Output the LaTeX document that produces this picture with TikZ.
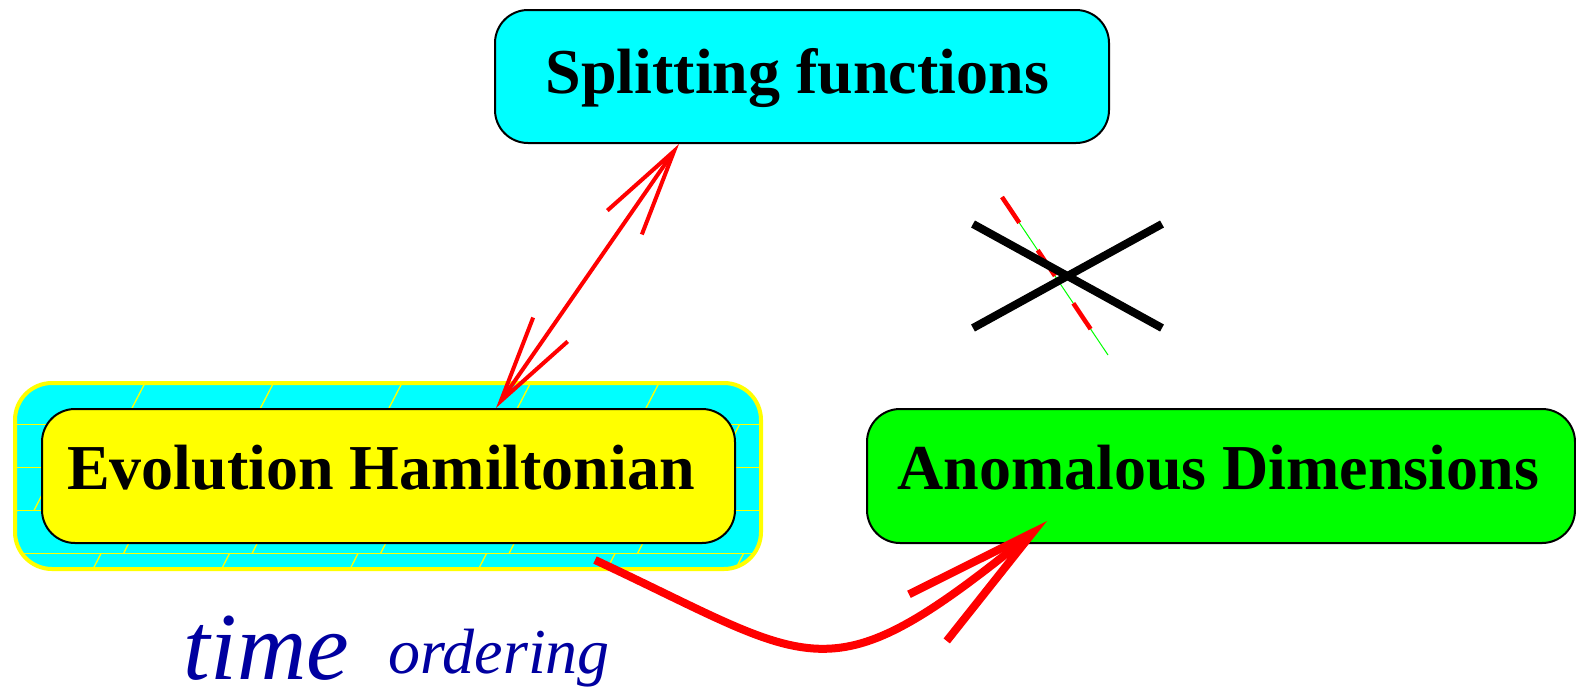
\documentclass[tikz,border=0pt]{standalone}
\usepackage{fontspec}
\setmainfont{Liberation Serif}
\usetikzlibrary{arrows.meta,calc}
\definecolor{tblue}{RGB}{0,0,160}
\definecolor{pcyan}{RGB}{0,255,255}
\definecolor{pyellow}{RGB}{255,255,0}
\definecolor{pgreen}{RGB}{0,255,0}
\definecolor{pred}{RGB}{255,0,0}
\begin{document}
\begin{tikzpicture}[x=1pt,y=-1pt,
  bigtxt/.style={inner sep=0pt, anchor=base west, font=\fontsize{64}{70}\selectfont\bfseries},
  boxshape/.style={draw=black, line width=2pt, rounded corners=33pt, inner sep=0pt},
  bluetxt/.style={inner sep=0pt, anchor=base west, text=tblue, text depth=0pt},
  patline/.style={draw=pyellow, line width=1.8pt},
  pattick/.style={draw=pyellow, line width=1.3pt},
  redarrow/.style={draw=pred, line width=4pt},
  thickarrow/.style={draw=pred, line width=8pt},
  crossline/.style={draw=black, line width=8pt}
]
\useasboundingbox (0,0) rectangle (1576,689);

% Splitting functions box
\node[boxshape, fill=pcyan, minimum width=614pt, minimum height=133pt] (sf) at (802,76.5) {};
\node[bigtxt] (sft) at (545.5,93.5) {Splitting functions};

% Evolution outer box with brick pattern
\node[draw=pyellow, line width=4pt, fill=pcyan, rounded corners=37pt, inner sep=0pt,
      minimum width=746pt, minimum height=186pt] (evo) at (388,476) {};
\begin{scope}
  \clip[rounded corners=37pt] (15,383) rectangle (761,569);
  \foreach \yy in {424.5,467.5,510.5,553.5} \draw[patline] (15,\yy) -- (761,\yy);
  \foreach \tt/\bb/\oo in {382/424.5/6, 424.5/467.5/86, 467.5/510.5/45, 510.5/553.5/6, 553.5/596.5/90}{
    \foreach \k in {0,...,6}{
      \pgfmathsetmacro\cc{\oo+128.5*\k}
      \draw[pattick] ({\cc-11},\bb) -- ({\cc+11},\tt);
    }
  }
\end{scope}
\node[boxshape, fill=pyellow, minimum width=693pt, minimum height=134pt] (ev) at (388.5,476) {};
\node[bigtxt] (evt) at (67,489) {Evolution Hamiltonian};

% Anomalous Dimensions box
\node[boxshape, fill=pgreen, minimum width=708pt, minimum height=134pt] (ad) at (1221,476) {};
\node[bigtxt] (adt) at (897,489) {Anomalous Dimensions};

% time ordering
\node[bluetxt, font=\fontsize{96}{100}\selectfont\itshape] (tm) at (183.5,679) {time};
\node[bluetxt, font=\fontsize{64}{70}\selectfont\itshape] (ord) at (388,673) {ordering};

% crossed-out dashed line
\draw[draw=pgreen, line width=1pt] (1002,197) -- (1108,355);
\draw[draw=pred, line width=4.5pt, dash pattern=on 31pt off 33pt] (1002,197) -- (1108,355);
\draw[crossline] (973,224) -- (1162,328);
\draw[crossline] (973,328) -- (1162,224);

% double arrow
\draw[redarrow, {Straight Barb[length=87pt,width=42pt,sharp]}-{Straight Barb[length=87pt,width=42pt,sharp]}]
  ($(ev.north west)+(455,0)$) -- ($(sf.south west)+(185,0)$);

% curved arrow
\coordinate (cs) at (595,560);
\draw[thickarrow, -{Straight Barb[length=135pt,width=60pt,sharp]}]
  (cs) .. controls (818,664) and (825,701) .. ($(ad.south west)+(181,-23)$);
\end{tikzpicture}
\end{document}
